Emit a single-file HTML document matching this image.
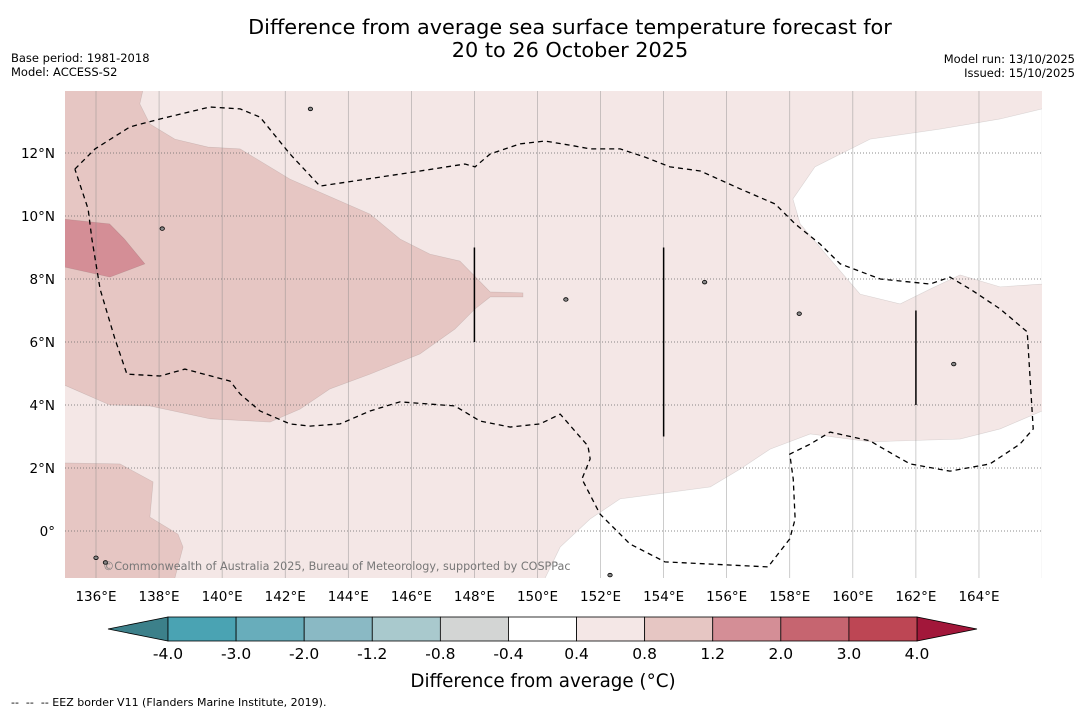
<!DOCTYPE html>
<html><head><meta charset="utf-8"><style>
body{margin:0;background:#fff;width:1085px;height:713px;overflow:hidden;font-family:"Liberation Sans","DejaVu Sans",sans-serif}
svg text{font-family:"DejaVu Sans","Liberation Sans",sans-serif}
</style></head><body>
<svg id="c" width="1085" height="713">
<text x="570" y="34" text-anchor="middle" font-size="20.8">Difference from average sea surface temperature forecast for</text>
<text x="570" y="57" text-anchor="middle" font-size="20.8">20 to 26 October 2025</text>
<text x="11" y="62" font-size="11.5">Base period: 1981-2018</text>
<text x="11" y="76" font-size="11.5">Model: ACCESS-S2</text>
<text x="1075" y="63" font-size="11.5" text-anchor="end">Model run: 13/10/2025</text>
<text x="1075" y="77" font-size="11.5" text-anchor="end">Issued: 15/10/2025</text>
<g id="map"></g>
<g id="cbar"></g>
<text x="543" y="687" text-anchor="middle" font-size="18.3">Difference from average (°C)</text>
<text x="11" y="706" font-size="11" xml:space="preserve">--  --  -- EEZ border V11 (Flanders Marine Institute, 2019).</text>
</svg>
<script>
const lonTicks=[136,138,140,142,144,146,148,150,152,154,156,158,160,162,164];
const latTicks=[0,2,4,6,8,10,12];
const cbBounds=[-4.0,-3.0,-2.0,-1.2,-0.8,-0.4,0.4,0.8,1.2,2.0,3.0,4.0];
const cbColors=["#4aa3b3","#68adbb","#8ab9c4","#a9c9cd","#d3d5d4","#ffffff","#f4e7e6","#e6c6c3","#d48e96","#c66570","#bd4654"];
const regionDark=[[135,14],[137.49,14],[137.39,13.56],[137.71,12.92],[138.5,12.44],[139.55,12.19],[140.57,12.13],[142.15,11.17],[144.69,10.06],[145.64,9.27],[146.59,8.79],[147.54,8.57],[148.5,7.59],[149.54,7.56],[149.54,7.43],[148.5,7.43],[148.02,7.05],[147.38,6.41],[146.27,5.62],[144.69,4.98],[143.42,4.51],[142.47,3.87],[141.52,3.46],[139.62,3.56],[137.71,3.97],[136.44,4.0],[135,4.63]];
const regionDarkSW=[[135,2.16],[136.76,2.13],[137.81,1.56],[137.71,0.44],[138.6,-0.1],[138.76,-0.51],[138.5,-1.5],[135,-1.5]];
const regionMed=[[135,9.9],[136.43,9.75],[136.9,9.27],[137.55,8.48],[136.44,8.06],[135,8.38]];
const regionWhiteNE=[[166,13.4],[164.67,13.08],[162.77,12.76],[160.55,12.44],[158.8,11.56],[158.1,10.54],[158.33,9.75],[159.28,8.63],[160.23,7.52],[161.5,7.21],[162.45,7.68],[163.4,8.13],[164.67,7.75],[166,7.84]];
const regionWhiteSE=[[166,3.81],[164.67,3.24],[163.4,2.92],[160.55,2.83],[158.65,3.08],[157.38,2.6],[156.43,1.97],[155.48,1.4],[152.62,1.02],[151.67,0.38],[150.72,-0.51],[150.24,-1.5],[166,-1.5]];
const eez=[[135.33,11.49],[135.97,12.13],[137.08,12.83],[138.03,13.08],[139.61,13.46],[140.57,13.4],[141.2,13.14],[142.15,11.97],[143.1,10.95],[145.64,11.33],[147.7,11.65],[148.02,11.56],[148.5,11.97],[149.45,12.29],[150.24,12.38],[151.19,12.22],[151.67,12.13],[152.62,12.13],[153.41,11.87],[154.2,11.56],[155.16,11.43],[156.43,10.86],[157.54,10.38],[158.17,9.75],[158.96,9.11],[159.6,8.48],[160.87,8.0],[162.45,7.84],[163.08,8.06],[163.72,7.68],[164.67,7.05],[165.53,6.32],[165.72,3.24],[165.3,2.76],[164.35,2.13],[163.08,1.9],[161.81,2.13],[160.87,2.67],[160.55,2.86],[159.28,3.14],[158.65,2.76],[158.0,2.44],[158.11,1.65],[158.17,0.38],[158.0,-0.25],[157.31,-1.14],[154.04,-0.98],[152.93,-0.41],[151.98,0.54],[151.41,1.65],[151.67,2.29],[151.6,2.7],[150.72,3.71],[150.08,3.4],[149.13,3.3],[148.18,3.49],[147.38,3.97],[145.64,4.1],[144.69,3.81],[143.74,3.4],[142.79,3.33],[142.15,3.4],[141.2,3.81],[140.57,4.35],[140.25,4.76],[138.82,5.14],[138.03,4.92],[136.98,4.98],[136.6,6.1],[136.13,7.68],[135.87,9.27],[135.75,10.22],[135.33,11.49]];
const eezSegs=[[148,9,6],[154,9,3],[162,7,4]];
const islands=[[142.8,13.4],[150.9,7.35],[152.3,-1.4],[136.0,-0.85],[136.3,-1.0],[158.3,6.9],[163.2,5.3],[138.1,9.6],[155.3,7.9]];
const X0=65,X1=1042,Y0=91,Y1=578;
const px=l=>96+(l-136)*31.535, py=l=>531-l*31.5;
const NS="http://www.w3.org/2000/svg";
const map=document.getElementById('map');
function mk(tag,attrs,parent){const e=document.createElementNS(NS,tag);for(const k in attrs)e.setAttribute(k,attrs[k]);parent.appendChild(e);return e;}
const clip=mk('clipPath',{id:'mc'},map);mk('rect',{x:X0,y:Y0,width:X1-X0,height:Y1-Y0},clip);
const g=mk('g',{'clip-path':'url(#mc)'},map);
const bg=mk('rect',{x:X0,y:Y0,width:X1-X0,height:Y1-Y0,fill:'#f4e7e6'},g);


function poly(pts,fill,name){const p=mk('polygon',{points:pts.map(q=>px(q[0])+','+py(q[1])).join(' '),fill:fill,stroke:'rgba(0,0,0,0.12)','stroke-width':0.6},g);

}
poly(regionDark,'#e6c6c3','anomaly-0.8-1.2-region');
poly(regionDarkSW,'#e6c6c3','anomaly-0.8-1.2-region-sw');
poly(regionMed,'#d48e96','anomaly-1.2-2.0-region');
poly(regionWhiteNE,'#ffffff','near-average-region-ne');
poly(regionWhiteSE,'#ffffff','near-average-region-se');
lonTicks.forEach(l=>{const e=mk('line',{x1:px(l),x2:px(l),y1:Y0,y2:Y1,stroke:'#888','stroke-width':0.6,'stroke-opacity':0.7},g);

});
latTicks.forEach(l=>{const e=mk('line',{x1:X0,x2:X1,y1:py(l),y2:py(l),stroke:'#666','stroke-width':0.8,'stroke-dasharray':'1,2'},g);

});
islands.forEach(q=>{const e=mk('ellipse',{cx:px(q[0]),cy:py(q[1]),rx:2.2,ry:1.8,fill:'#888',stroke:'#000','stroke-width':0.8},g);

});
const ez=mk('polyline',{points:eez.map(q=>px(q[0])+','+py(q[1])).join(' '),fill:'none',stroke:'#000','stroke-width':1.3,'stroke-dasharray':'5,4'},g);


eezSegs.forEach(s=>{const e=mk('line',{x1:px(s[0]),x2:px(s[0]),y1:py(s[1]),y2:py(s[2]),stroke:'#000','stroke-width':1.5},g);

});
const wm=mk('text',{x:103,y:570,'font-size':11.2,fill:'#777'},g);wm.textContent='©Commonwealth of Australia 2025, Bureau of Meteorology, supported by COSPPac';


lonTicks.forEach(l=>{const t=mk('text',{x:px(l),y:601,'font-size':13.5,'text-anchor':'middle'},map);t.textContent=l+'°E';

});
latTicks.forEach(l=>{const t=mk('text',{x:55,y:py(l)+5,'font-size':13.5,'text-anchor':'end'},map);t.textContent=l===0?'0°':l+'°N';

});
const cb=document.getElementById('cbar');
const cx0=168,cw=(917-168)/cbColors.length,cy=617,ch=24;
const lo=mk('polygon',{points:`108,${cy+ch/2} ${cx0},${cy} ${cx0},${cy+ch}`,fill:'#3c808a',stroke:'#000','stroke-width':0.8},cb);


const hi=mk('polygon',{points:`977,${cy+ch/2} 917,${cy} 917,${cy+ch}`,fill:'#a2173a',stroke:'#000','stroke-width':0.8},cb);


cbColors.forEach((c,i)=>{const r=mk('rect',{x:cx0+i*cw,y:cy,width:cw,height:ch,fill:c,stroke:'#000','stroke-width':0.8},cb);

});
cbBounds.forEach((b,i)=>{const t=mk('text',{x:cx0+i*cw,y:659,'font-size':15.5,'text-anchor':'middle'},cb);t.textContent=b.toFixed(1);

});
</script>
</body></html>
